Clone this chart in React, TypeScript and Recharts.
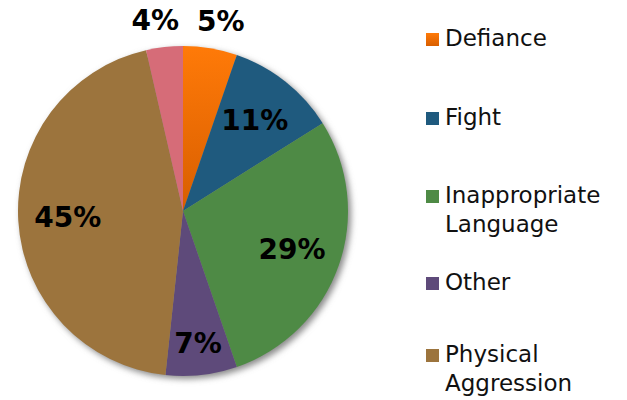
import { PieChart, Pie, Cell } from "recharts"

const categories = ["Defiance", "Fight", "Inappropriate Language", "Other", "Physical Aggression", "Unlisted"]
const shares = [5.3, 10.8, 28.7, 7.0, 44.8, 3.6]
const legendLines = [["Defiance"], ["Fight"], ["Inappropriate", "Language"], ["Other"], ["Physical", "Aggression"]]

const colors = ["url(#defianceGrad)", "#1F5A7E", "#4E8A45", "#5E4A7A", "#9C743D", "#D66C78"]
const legendTops = [33, 112, 190, 277, 349]

const data = categories.map((name, i) => ({ name, value: shares[i] }))

const RADIAN = Math.PI / 180
const FONT = "'DejaVu Sans', Verdana, sans-serif"

function renderLabel(props: any) {
  const { cx, cy, midAngle, outerRadius, percent } = props
  let r = outerRadius * 0.7
  let nudge = 0
  const cos = Math.cos(-midAngle * RADIAN)
  if (percent < 0.06) {
    r = outerRadius + 27
    nudge = cos > 0 ? 6 : -6
  } else if (percent < 0.1) r = outerRadius * 0.81
  const x = cx + r * cos + nudge
  const y = cy + r * Math.sin(-midAngle * RADIAN)
  return (
    <text x={x} y={y} textAnchor="middle" dominantBaseline="central" fill="#000" fontFamily={FONT} fontWeight="bold" fontSize={28}>
      {Math.round(percent * 100) + "%"}
    </text>
  )
}

export default function App() {
  return (
    <div style={{ position: "absolute", left: 0, top: 0, width: 627, height: 400, background: "#fff" }}>
      <PieChart width={627} height={400} margin={{ top: 0, right: 0, bottom: 0, left: 0 }}>
        <defs>
          <linearGradient id="defianceGrad" x1="0" y1="0" x2="0" y2="1">
            <stop offset="0%" stopColor="#FF7A08" />
            <stop offset="100%" stopColor="#D85E00" />
          </linearGradient>
          <filter id="pieShadow" x="-20%" y="-20%" width="140%" height="140%">
            <feGaussianBlur stdDeviation="3" />
          </filter>
        </defs>
        <Pie
          data={[{ name: "shadow", value: 1 }]}
          dataKey="value"
          cx={186}
          cy={214}
          outerRadius={165}
          startAngle={90}
          endAngle={-270}
          stroke="none"
          isAnimationActive={false}
          label={false}
          labelLine={false}
        >
          <Cell fill="#8a8a8a" filter="url(#pieShadow)" />
        </Pie>
        <Pie
          data={data}
          dataKey="value"
          nameKey="name"
          cx={183}
          cy={211}
          outerRadius={165}
          startAngle={90}
          endAngle={-270}
          stroke="none"
          isAnimationActive={false}
          labelLine={false}
          label={renderLabel}
        >
          {data.map((d, i) => (
            <Cell key={d.name} fill={colors[i]} />
          ))}
        </Pie>
      </PieChart>
      {legendLines.map((lines, i) => (
        <div key={i} style={{ position: "absolute", left: 426, top: legendTops[i], fontFamily: FONT, fontSize: 23, color: "#111" }}>
          <div
            style={{
              position: "absolute",
              left: 0,
              top: 0,
              width: 13,
              height: 13,
              background: i === 0 ? "linear-gradient(#FF7A08, #D85E00)" : colors[i],
            }}
          />
          <div style={{ position: "absolute", left: 19, top: -9, lineHeight: "29px", whiteSpace: "nowrap" }}>
            {lines.map((l) => (
              <div key={l}>{l}</div>
            ))}
          </div>
        </div>
      ))}
    </div>
  )
}
